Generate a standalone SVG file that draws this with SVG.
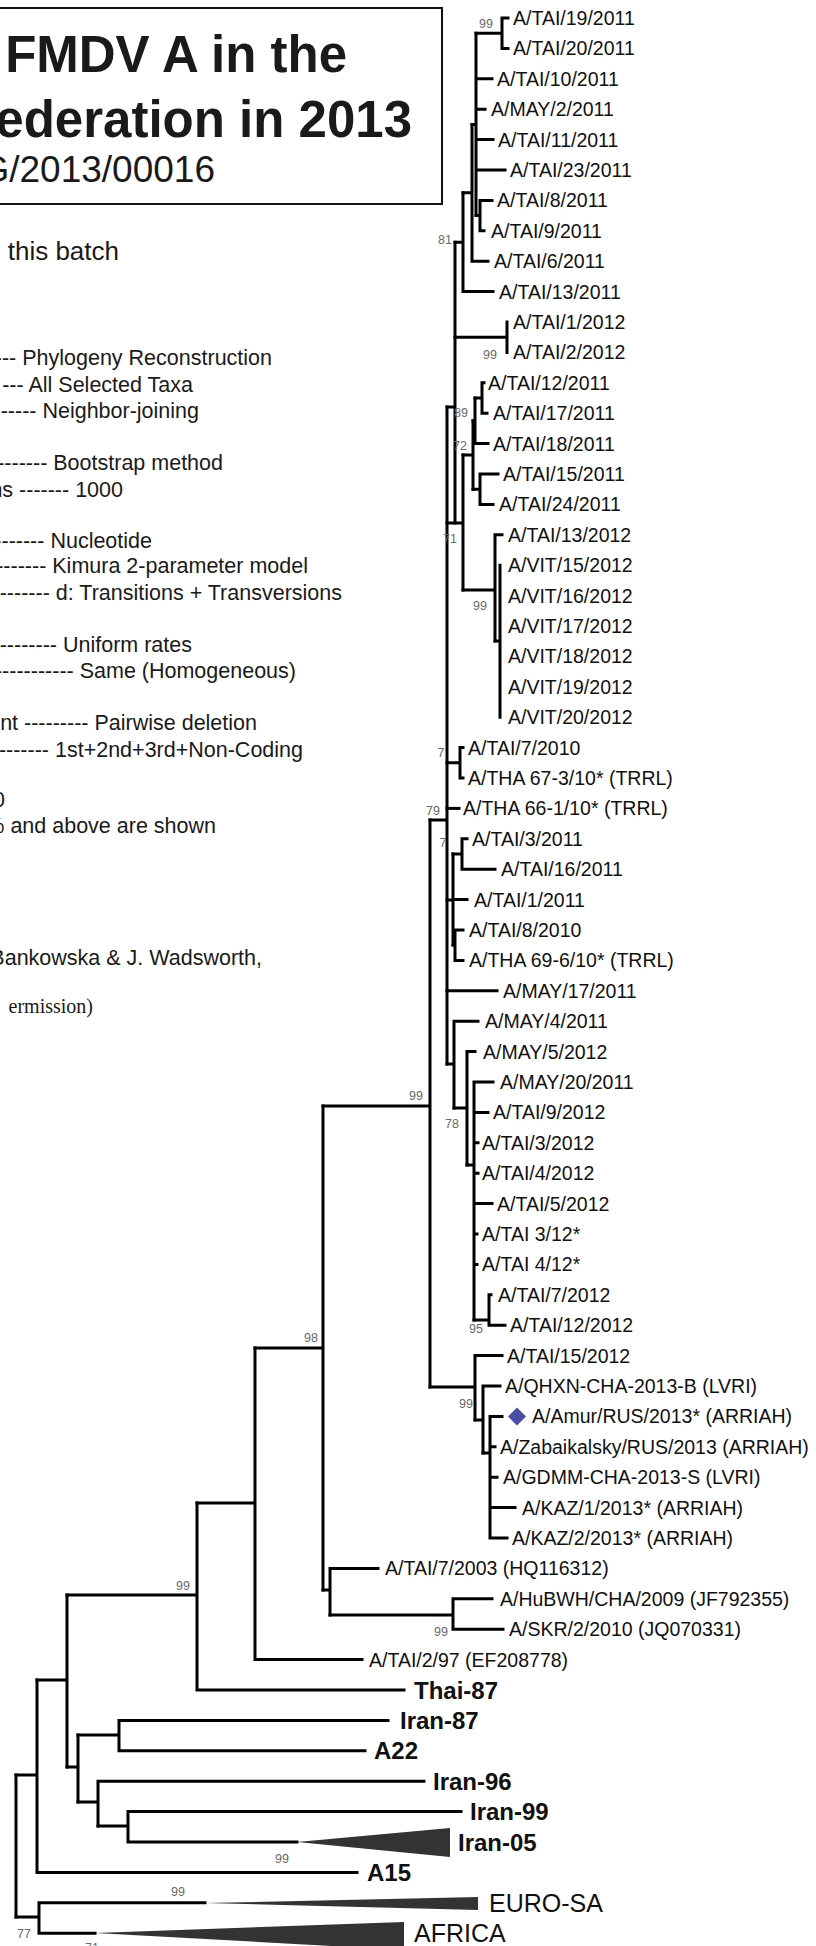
<svg xmlns="http://www.w3.org/2000/svg" width="816" height="1946" viewBox="0 0 816 1946">
<style>
.t{font-family:"Liberation Sans",Arial,sans-serif;fill:#1a1a1a}
.title{font-weight:bold;font-size:51px}
.p{font-size:21.5px}
.lf{font-family:"Liberation Sans",Arial,sans-serif;font-size:19.5px;fill:#111}
.bd{font-family:"Liberation Sans",Arial,sans-serif;font-size:24px;font-weight:bold;fill:#111}
.gp{font-family:"Liberation Sans",Arial,sans-serif;font-size:25px;fill:#111}
.bs{font-family:"Liberation Sans",Arial,sans-serif;font-size:12.5px;fill:#6a6a6a}
.br{fill:none;stroke:#000;stroke-width:3;stroke-linecap:square}
.tri{fill:#333}
</style>
<rect width="816" height="1946" fill="#fff"/>
<g id="header">
<rect x="-5" y="8" width="447" height="196" fill="#fff" stroke="#111" stroke-width="2"/>
<text class="t title" x="347" y="72" text-anchor="end">FMDV A in the</text>
<text class="t title" x="412" y="137" text-anchor="end">ederation in 2013</text>
<text class="t" x="215" y="182" font-size="37" text-anchor="end">G/2013/00016</text>
</g>
<g id="notes">
<text class="t" x="119" y="260" font-size="26" text-anchor="end">this batch</text>
<text class="t p" x="272" y="365" text-anchor="end">--- Phylogeny Reconstruction</text>
<text class="t p" x="193" y="392" text-anchor="end">--- All Selected Taxa</text>
<text class="t p" x="199" y="418" text-anchor="end">------ Neighbor-joining</text>
<text class="t p" x="223" y="470" text-anchor="end">-------- Bootstrap method</text>
<text class="t p" x="123" y="497" text-anchor="end">ns ------- 1000</text>
<text class="t p" x="152" y="548" text-anchor="end">-------- Nucleotide</text>
<text class="t p" x="308" y="573" text-anchor="end">-------- Kimura 2-parameter model</text>
<text class="t p" x="342" y="600" text-anchor="end">-------- d: Transitions + Transversions</text>
<text class="t p" x="192" y="652" text-anchor="end">--------- Uniform rates</text>
<text class="t p" x="296" y="678" text-anchor="end">----------- Same (Homogeneous)</text>
<text class="t p" x="257" y="730" text-anchor="end">ent --------- Pairwise deletion</text>
<text class="t p" x="303" y="757" text-anchor="end">--------- 1st+2nd+3rd+Non-Coding</text>
<text class="t p" x="5" y="807" text-anchor="end">0</text>
<text class="t p" x="216" y="833" text-anchor="end">% and above are shown</text>
<text class="t p" x="262" y="965" text-anchor="end">Bankowska &amp; J. Wadsworth,</text>
<text x="93" y="1013" text-anchor="end" font-family="'Liberation Serif','Times New Roman',serif" font-size="20" fill="#1a1a1a">ermission)</text>
</g>
<g id="connectors" class="br">
<path d="M502 18V48.4M502 18H508M502 48.4H508M476 33.2H502"/>
<path d="M480 200.4V230.8M480 200.4H492M480 230.8H484M476 215.6H480"/>
<path d="M476 33.2V215.6M476 78.8H492M476 109.2H485M476 139.6H493M476 170H505M472 124.4H476"/>
<path d="M472 124.4V261.2M472 261.2H488M463 192.8H472"/>
<path d="M463 192.8V291.6M463 291.6H493M455 242.2H463"/>
<path d="M507 322V352.4M455 337.2H507"/>
<path d="M455 242.2V523M447 407H455"/>
<path d="M482 382.8V413.2M482 382.8H484M482 413.2H487M475 398H482"/>
<path d="M475 398V443.6M475 443.6H488M473 420.8H475"/>
<path d="M480 474V504.4M480 474H498M480 504.4H493M473 489.2H480"/>
<path d="M473 420.8V489.2M463 455H473"/>
<path d="M463 455V590M447 523H463"/>
<path d="M500 565.2V717.2M495 641H500"/>
<path d="M495 534.8V641M495 534.8H502M463 590H495"/>
<path d="M460 747.6V778M460 747.6H463M460 778H463M447 762.8H460"/>
<path d="M447 808.4H459"/>
<path d="M462 838.8V869.2M462 838.8H467M462 869.2H495M453 854H462"/>
<path d="M455 930V960.4M455 930H463M455 960.4H463M453 945H455"/>
<path d="M453 854V945M453 899.6H467M447 900H453"/>
<path d="M447 990.8H497"/>
<path d="M454 1021.2V1108M454 1021.2H478M447 1064H454"/>
<path d="M447 407V1064M430 820H447"/>
<path d="M467 1051.6V1165M467 1051.6H475M454 1108H467"/>
<path d="M474 1082V1320M474 1082H493M474 1112.4H488M474 1142.8H478M474 1173.2H478M474 1203.6H492M474 1234H477M474 1264.4H477M467 1165H474"/>
<path d="M489 1294.8V1325.2M489 1294.8H491M489 1325.2H505M474 1320H489"/>
<path d="M490 1416.4V1538M490 1416.4H502M490 1446.8H495M490 1477.2H497M490 1507.6H515M490 1538H507M483 1453H490"/>
<path d="M483 1386V1453M483 1386H500M475 1420H483"/>
<path d="M475 1355.6V1420M475 1355.6H502M430 1387H475"/>
<path d="M430 820V1387M323 1106H430"/>
<path d="M323 1106V1590M255 1348H323"/>
<path d="M330 1568.4V1615M330 1568.4H378M323 1590H330"/>
<path d="M453 1598.8V1629.2M453 1598.8H492M453 1629.2H503M330 1615H453"/>
<path d="M255 1348V1659.6M255 1659.6H362M197 1503H255"/>
<path d="M197 1503V1690M197 1690H404M67 1595H197"/>
<path d="M119 1720.4V1750.8M119 1720.4H388M119 1750.8H365M78 1735H119"/>
<path d="M128 1811.6V1842M128 1811.6H461M128 1842H297M98 1826H128"/>
<path d="M98 1781.2V1826M98 1781.2H424M78 1802H98"/>
<path d="M78 1735V1802M67 1767H78"/>
<path d="M67 1595V1767M37 1680H67"/>
<path d="M37 1680V1872.4M37 1872.4H357M16 1775H37"/>
<path d="M39 1902.8V1933.2M39 1902.8H205M39 1933.2H95M16 1917H39"/>
<path d="M16 1775V1917"/>
</g>
<g id="collapsed">
<polygon class="tri" points="297,1842 450,1828 450,1857"/>
<polygon class="tri" points="205,1903 478,1897 478,1910"/>
<polygon class="tri" points="95,1933 404,1922 404,1950"/>
</g>
<g id="bootstrap" class="bs">
<text x="493" y="28" text-anchor="end">99</text>
<text x="452" y="244" text-anchor="end">81</text>
<text x="497" y="359" text-anchor="end">99</text>
<text x="468" y="417" text-anchor="end">89</text>
<text x="467" y="450" text-anchor="end">72</text>
<text x="457" y="543" text-anchor="end">71</text>
<text x="487" y="610" text-anchor="end">99</text>
<text x="441" y="757" text-anchor="middle">7</text>
<text x="443" y="847" text-anchor="middle">7</text>
<text x="433" y="815" text-anchor="middle">79</text>
<text x="452" y="1128" text-anchor="middle">78</text>
<text x="483" y="1333" text-anchor="end">95</text>
<text x="473" y="1408" text-anchor="end">99</text>
<text x="423" y="1100" text-anchor="end">99</text>
<text x="318" y="1342" text-anchor="end">98</text>
<text x="448" y="1636" text-anchor="end">99</text>
<text x="190" y="1590" text-anchor="end">99</text>
<text x="289" y="1863" text-anchor="end">99</text>
<text x="185" y="1896" text-anchor="end">99</text>
<text x="31" y="1938" text-anchor="end">77</text>
<text x="99" y="1952" text-anchor="end">71</text>
</g>
<g id="leaves" class="lf">
<g id="n01"><text x="513" y="25">A/TAI/19/2011</text></g>
<g id="n02"><text x="513" y="55.4">A/TAI/20/2011</text></g>
<g id="n03"><text x="497" y="85.8">A/TAI/10/2011</text></g>
<g id="n04"><text x="491" y="116.2">A/MAY/2/2011</text></g>
<g id="n05"><text x="498" y="146.6">A/TAI/11/2011</text></g>
<g id="n06"><text x="510" y="177">A/TAI/23/2011</text></g>
<g id="n07"><text x="497" y="207.4">A/TAI/8/2011</text></g>
<g id="n08"><text x="491" y="237.8">A/TAI/9/2011</text></g>
<g id="n09"><text x="494" y="268.2">A/TAI/6/2011</text></g>
<g id="n10"><text x="499" y="298.6">A/TAI/13/2011</text></g>
<g id="n11"><text x="513" y="329">A/TAI/1/2012</text></g>
<g id="n12"><text x="513" y="359.4">A/TAI/2/2012</text></g>
<g id="n13"><text x="488" y="389.8">A/TAI/12/2011</text></g>
<g id="n14"><text x="493" y="420.2">A/TAI/17/2011</text></g>
<g id="n15"><text x="493" y="450.6">A/TAI/18/2011</text></g>
<g id="n16"><text x="503" y="481">A/TAI/15/2011</text></g>
<g id="n17"><text x="499" y="511.4">A/TAI/24/2011</text></g>
<g id="n18"><text x="508" y="541.8">A/TAI/13/2012</text></g>
<g id="n19"><text x="508" y="572.2">A/VIT/15/2012</text></g>
<g id="n20"><text x="508" y="602.6">A/VIT/16/2012</text></g>
<g id="n21"><text x="508" y="633">A/VIT/17/2012</text></g>
<g id="n22"><text x="508" y="663.4">A/VIT/18/2012</text></g>
<g id="n23"><text x="508" y="693.8">A/VIT/19/2012</text></g>
<g id="n24"><text x="508" y="724.2">A/VIT/20/2012</text></g>
<g id="n25"><text x="468" y="754.6">A/TAI/7/2010</text></g>
<g id="n26"><text x="468" y="785">A/THA 67-3/10* (TRRL)</text></g>
<g id="n27"><text x="463" y="815.4">A/THA 66-1/10* (TRRL)</text></g>
<g id="n28"><text x="472" y="845.8">A/TAI/3/2011</text></g>
<g id="n29"><text x="501" y="876.2">A/TAI/16/2011</text></g>
<g id="n30"><text x="474" y="906.6">A/TAI/1/2011</text></g>
<g id="n31"><text x="469" y="937">A/TAI/8/2010</text></g>
<g id="n32"><text x="469" y="967.4">A/THA 69-6/10* (TRRL)</text></g>
<g id="n33"><text x="503" y="997.8">A/MAY/17/2011</text></g>
<g id="n34"><text x="485" y="1028.2">A/MAY/4/2011</text></g>
<g id="n35"><text x="483" y="1058.6">A/MAY/5/2012</text></g>
<g id="n36"><text x="500" y="1089">A/MAY/20/2011</text></g>
<g id="n37"><text x="493" y="1119.4">A/TAI/9/2012</text></g>
<g id="n38"><text x="482" y="1149.8">A/TAI/3/2012</text></g>
<g id="n39"><text x="482" y="1180.2">A/TAI/4/2012</text></g>
<g id="n40"><text x="497" y="1210.6">A/TAI/5/2012</text></g>
<g id="n41"><text x="482" y="1241">A/TAI 3/12*</text></g>
<g id="n42"><text x="482" y="1271.4">A/TAI 4/12*</text></g>
<g id="n43"><text x="498" y="1301.8">A/TAI/7/2012</text></g>
<g id="n44"><text x="510" y="1332.2">A/TAI/12/2012</text></g>
<g id="n45"><text x="507" y="1362.6">A/TAI/15/2012</text></g>
<g id="n46"><text x="505" y="1393">A/QHXN-CHA-2013-B (LVRI)</text></g>
<g id="n47"><polygon points="517,1407.4 526,1416.4 517,1425.4 508,1416.4" fill="#4a4fa6"/><text x="532" y="1423.4">A/Amur/RUS/2013* (ARRIAH)</text></g>
<g id="n48"><text x="500" y="1453.8">A/Zabaikalsky/RUS/2013 (ARRIAH)</text></g>
<g id="n49"><text x="503" y="1484.2">A/GDMM-CHA-2013-S (LVRI)</text></g>
<g id="n50"><text x="522" y="1514.6">A/KAZ/1/2013* (ARRIAH)</text></g>
<g id="n51"><text x="512" y="1545">A/KAZ/2/2013* (ARRIAH)</text></g>
<g id="n52"><text x="385" y="1575.4">A/TAI/7/2003 (HQ116312)</text></g>
<g id="n53"><text x="500" y="1605.8">A/HuBWH/CHA/2009 (JF792355)</text></g>
<g id="n54"><text x="509" y="1636.2">A/SKR/2/2010 (JQ070331)</text></g>
<g id="n55"><text x="369" y="1666.6">A/TAI/2/97 (EF208778)</text></g>
<g id="n56"><text class="bd" x="414" y="1698.5">Thai-87</text></g>
<g id="n57"><text class="bd" x="400" y="1729">Iran-87</text></g>
<g id="n58"><text class="bd" x="374" y="1759.3">A22</text></g>
<g id="n59"><text class="bd" x="433" y="1789.7">Iran-96</text></g>
<g id="n60"><text class="bd" x="470" y="1820.1">Iran-99</text></g>
<g id="n61"><text class="bd" x="458" y="1850.5">Iran-05</text></g>
<g id="n62"><text class="bd" x="367" y="1880.9">A15</text></g>
<g id="n63"><text class="gp" x="489" y="1911.8">EURO-SA</text></g>
<g id="n64"><text class="gp" x="414" y="1942.2">AFRICA</text></g>
</g>
</svg>
